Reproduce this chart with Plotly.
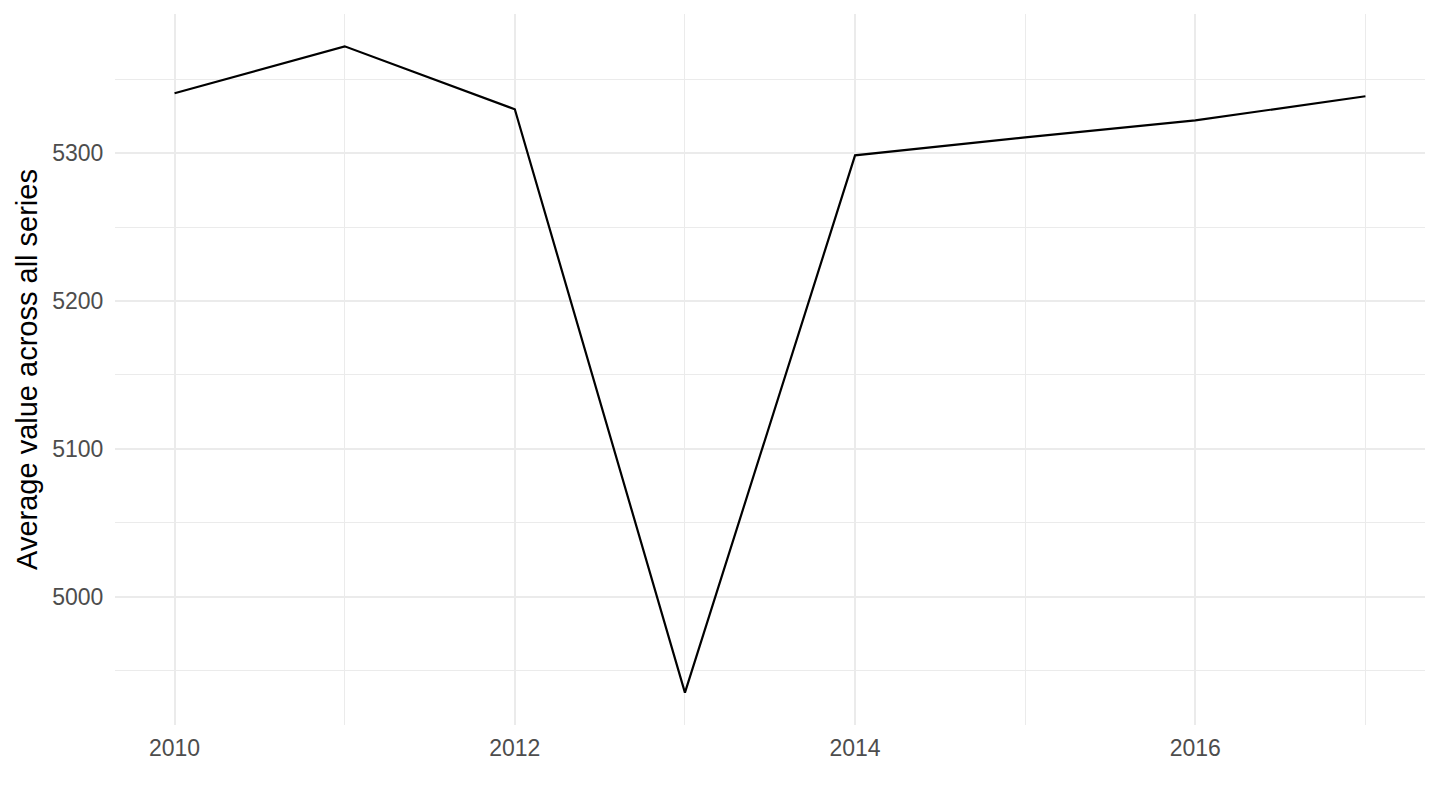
import plotly.graph_objects as go

years = [2010, 2011, 2012, 2013, 2014, 2015, 2016, 2017]
values = [5340.6, 5372.4, 5329.8, 4935.0, 5298.6, 5310.8, 5322.3, 5338.6]
y_title = "Average value across all series"
x_ticks = [2010, 2012, 2014, 2016]
y_ticks = [5000, 5100, 5200, 5300]

fig = go.Figure()
fig.add_trace(go.Scatter(x=years, y=values, mode="lines",
                         line=dict(color="black", width=2.2), showlegend=False))

span_x = max(years) - min(years)
span_y = max(values) - min(values)

fig.update_layout(
    width=1424, height=794,
    paper_bgcolor="white", plot_bgcolor="white",
    margin=dict(l=107, r=7, t=6, b=77, autoexpand=False),
    font=dict(family="Liberation Sans, Arial, sans-serif"),
    xaxis=dict(
        range=[min(years) - 0.05 * span_x, max(years) + 0.05 * span_x],
        tickvals=x_ticks, ticktext=[str(v) for v in x_ticks],
        showgrid=True, gridcolor="#EBEBEB", gridwidth=2.2,
        minor=dict(tickvals=[2011, 2013, 2015, 2017], showgrid=True,
                   gridcolor="#EBEBEB", gridwidth=1.1),
        zeroline=False, showline=False,
        ticks="outside", ticklen=2, tickcolor="rgba(0,0,0,0)",
        tickfont=dict(size=23, color="#4D4D4D"),
    ),
    yaxis=dict(
        range=[min(values) - 0.05 * span_y, max(values) + 0.05 * span_y],
        tickvals=y_ticks, ticktext=[str(v) for v in y_ticks],
        showgrid=True, gridcolor="#EBEBEB", gridwidth=2.2,
        minor=dict(tickvals=[4950, 5050, 5150, 5250, 5350], showgrid=True,
                   gridcolor="#EBEBEB", gridwidth=1.1),
        zeroline=False, showline=False,
        ticks="outside", ticklen=6, tickcolor="rgba(0,0,0,0)",
        tickfont=dict(size=23, color="#4D4D4D"),
        title=dict(text=y_title, font=dict(size=29, color="black"), standoff=6),
    ),
)

fig.write_html("out.html")
